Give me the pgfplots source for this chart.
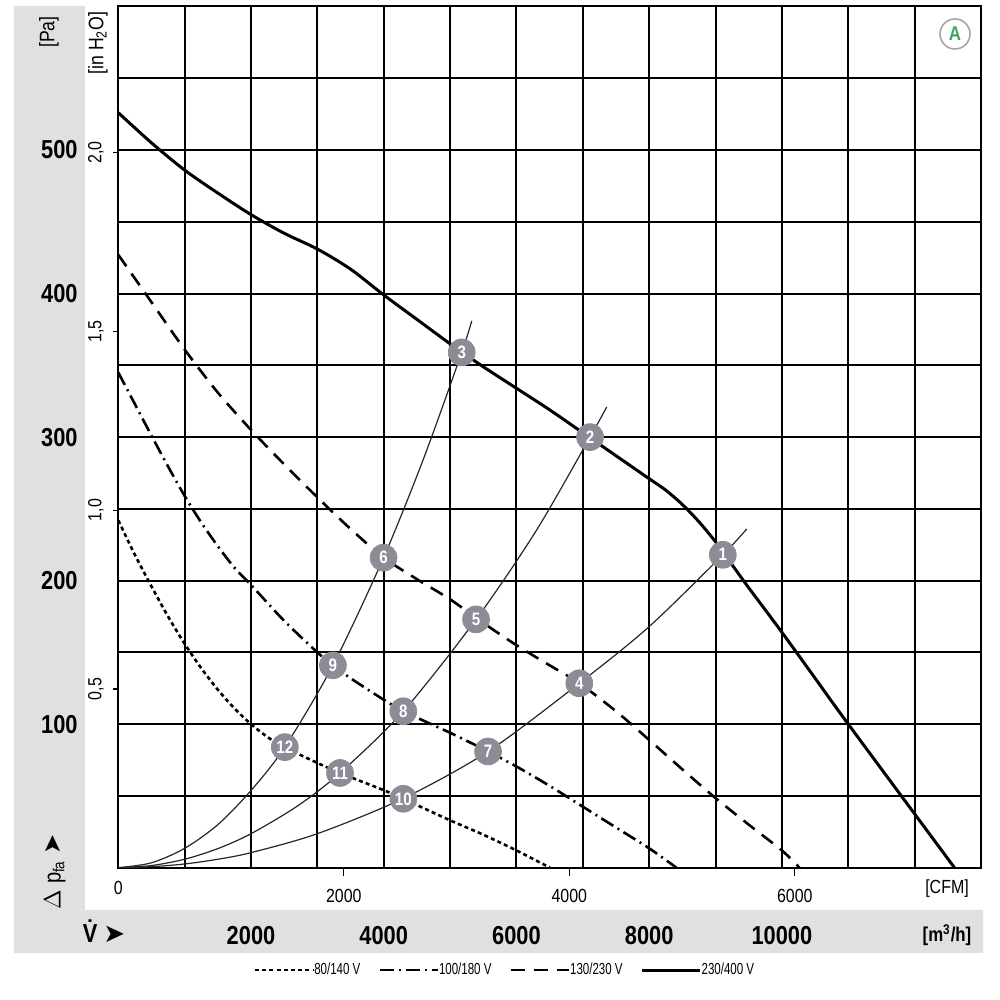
\documentclass[border=0pt]{standalone}
\usepackage{pgfplots}
\usepackage{pgfplotstable}
\pgfplotsset{compat=1.18}
\usepackage{fontspec}
\setmainfont{Liberation Sans}[FakeStretch=0.84]
\newfontfamily\lcond{Liberation Sans}[FakeStretch=0.72]
\newfontfamily\dejavu{DejaVu Sans}
\definecolor{markgray}{RGB}{140,140,150}
\definecolor{bandgray}{RGB}{224,224,224}
\definecolor{agreen}{RGB}{70,160,100}

\pgfplotstableread{
V P
0 526
500 505
1000 486
1500 470
2000 455
2500 442
3000 431
3500 417
4000 399
4500 382
5000 365
5500 349
6000 334
6500 319
7000 303
7500 287
8000 271
8250 263
8500 253
8750 241
9000 227
9250 211
9500 195
10000 164
10500 132
11000 100
12600 0
}\solidtab

\pgfplotstableread{
V P
0 427
500 394
1000 361
1500 331
2000 305
2500 281
3000 258
3500 236
4000 216
4500 201
5000 187
5391 174
6000 155
6500 141
6947 128.5
7500 109
8000 89
8500 68.5
9000 48.5
9500 30
10000 12
10265 0
}\dashedtab

\pgfplotstableread{
V P
0 345
250 323
500 301
750 279.5
1000 259
1250 240.5
1500 224
1750 209
2000 197
2500 172
3000 150
3234 141
3500 132
4000 117
4295 109
4500 104.5
5000 94
5572 81
6000 70.5
6500 57
7000 42.5
7500 28
8000 13.5
8410 0
}\dashdottab

\pgfplotstableread{
V P
0 242
250 218
500 196
750 175
1000 156
1250 139
1500 124
1750 111
2000 100
2250 91
2500 84
3000 73
3340 66
4000 54
4295 48
5000 33
5500 23
6000 12
6505 0
}\dottedtab

\pgfplotstableread{
V P
0 0
500 0.7
1000 2.6
1500 5.9
2000 10.5
3000 23.7
4295 48.3
5572 81
6947 128.5
8000 168
9109 218
9470 236
}\sysA

\pgfplotstableread{
V P
0 0
500 1.5
1000 5.9
1500 13.3
2000 23.7
2700 43
3341 66
4295 109
5391 173
6300 235
7109 300
7360 321
}\sysB

\pgfplotstableread{
V P
0 0
500 3.4
1000 13.5
1500 30
2000 53.8
2509 84
3234 141
3997 216
4600 285
5175 359
5326 381
}\sysC

\pgfplotstableread{
V P L
9109 218 1
7109 300 2
5175 359 3
6947 128.5 4
5391 173 5
3997 216 6
5572 81 7
4295 109 8
3234 141 9
4295 48 10
3341 66 11
2509 84 12
}\markstab

\pgfplotsset{base/.style={at={(0,0)}, anchor=south west, scale only axis,
  width=431.35pt, height=430.6pt, xmin=0, xmax=13000, ymin=0, ymax=600,
  scaled ticks=false}}

\begin{document}
\begin{tikzpicture}
\begin{scope}[x=0.5pt,y=-0.5pt,shift={(-59.15pt,433.85pt)}]
\fill[bandgray] (14,6) -- (85,6) -- (85,910) -- (983,910) -- (983,953) -- (14,953) -- cycle;
\end{scope}

% main axis with grid and data
\begin{axis}[base,
  axis line style={line width=1pt},
  xtick={0,1000,...,13000}, ytick={0,50,...,600},
  xticklabels={}, yticklabels={},
  major tick length=0pt,
  grid=major, major grid style={black, line width=1pt},
  legend style={at={(0.447,-0.1188)}, anchor=center, draw=none, fill=none,
    legend columns=4, font=\lcond\fontsize{8}{10}\selectfont,
    /tikz/every even column/.append style={column sep=9pt},
    nodes={inner xsep=0pt, inner ysep=1pt}},
  legend image code/.code={\draw[#1] (0pt,0pt) -- (29pt,0pt);},
]
\addplot[forget plot, black!85, line width=0.6pt, smooth] table[x=V,y=P] {\sysA};
\addplot[forget plot, black!85, line width=0.6pt, smooth] table[x=V,y=P] {\sysB};
\addplot[forget plot, black!85, line width=0.6pt, smooth] table[x=V,y=P] {\sysC};
\addplot[black, line width=1.3pt, dash pattern=on 2pt off 1.6pt, smooth] table[x=V,y=P] {\dottedtab};
\addlegendentry{80/140 V}
\addplot[black, line width=1.3pt, dash pattern=on 7pt off 2.5pt on 1pt off 2.5pt, smooth] table[x=V,y=P] {\dashdottab};
\addlegendentry{100/180 V}
\addplot[black, line width=1.3pt, dash pattern=on 7pt off 4.5pt, smooth] table[x=V,y=P] {\dashedtab};
\addlegendentry{130/230 V}
\addplot[black, line width=1.5pt, smooth] table[x=V,y=P] {\solidtab};
\addlegendentry{230/400 V}
\addplot[forget plot, only marks, mark=*, mark size=6.7pt,
  mark options={fill=markgray, draw=markgray},
  nodes near coords, point meta=explicit symbolic,
  nodes near coords align={center},
  every node near coord/.append style={anchor=center, text=white, inner sep=0pt,
    font=\bfseries\fontsize{9}{9}\selectfont}]
  table[x=V, y=P, meta=L] {\markstab};
\end{axis}

% Pa labels
\begin{axis}[base, hide x axis, axis y line*=left, y axis line style={draw=none},
  ytick={100,200,...,500}, yticklabels={100,200,300,400,500},
  major tick length=0pt,
  yticklabel style={anchor=east, inner sep=0pt, xshift=-20.15pt,
    font=\bfseries\fontsize{13}{13}\selectfont}]
\end{axis}

% in H2O labels
\begin{axis}[base, hide x axis, axis y line*=left, y axis line style={draw=none},
  ytick={124.54,249.09,373.63,498.18}, yticklabels={{0,5},{1,0},{1,5},{2,0}},
  tick align=outside, major tick length=2.5pt, tick style={black, line width=0.6pt},
  yticklabel style={xshift=-6pt, rotate=90, anchor=base, inner sep=0pt,
    font=\fontsize{9.5}{9.5}\selectfont}]
\end{axis}

% CFM labels
\begin{axis}[base, hide y axis, axis x line*=bottom, x axis line style={draw=none},
  xtick={3398,6796,10194}, xticklabels={2000,4000,6000},
  extra x ticks={0}, extra x tick labels={0},
  extra x tick style={major tick length=0pt},
  tick align=outside, major tick length=4pt, tick style={black, line width=0.6pt},
  xticklabel style={anchor=center, yshift=-10.2pt, inner sep=0pt,
    font=\fontsize{9.5}{9.5}\selectfont}]
\end{axis}

% m3/h labels
\begin{axis}[base, hide y axis, axis x line*=bottom, x axis line style={draw=none},
  xtick={2000,4000,...,10000}, xticklabels={2000,4000,6000,8000,10000},
  major tick length=0pt,
  xticklabel style={anchor=center, yshift=-33.9pt, inner sep=0pt,
    font=\bfseries\fontsize{13}{13}\selectfont}]
\end{axis}

\begin{scope}[x=0.5pt,y=-0.5pt,shift={(-59.15pt,433.85pt)}]
\node[rotate=90, inner sep=0pt, font=\fontsize{10.5}{11}\selectfont] at (49,32) {[Pa]};
\node[rotate=90, inner sep=0pt, font=\fontsize{10.5}{11}\selectfont] at (98,43) {[in H\textsubscript{2}O]};
\node[rotate=90, inner sep=0pt, font=\fontsize{12}{12}\selectfont] at (55,872) {$\Delta$ p\textsubscript{fa} {\dejavu ➤}};
\node[inner sep=0pt, font=\bfseries\fontsize{13}{13}\selectfont] at (104,931) {\.{V} {\dejavu ➤}};
\node[inner sep=0pt, font=\fontsize{9.5}{10}\selectfont] at (947,889) {[CFM]};
\node[inner sep=0pt, font=\bfseries\fontsize{10}{10}\selectfont] at (947,935.5) {[m\textsuperscript{3}/h]};
\node[circle, draw=gray!70, line width=0.8pt, minimum size=15pt, inner sep=0pt,
  text=agreen, font=\bfseries\fontsize{10}{10}\selectfont] at (955,34) {A};
\pgfresetboundingbox
\path[use as bounding box] (0,0) rectangle (1000,1000);
\end{scope}
\end{tikzpicture}
\end{document}
